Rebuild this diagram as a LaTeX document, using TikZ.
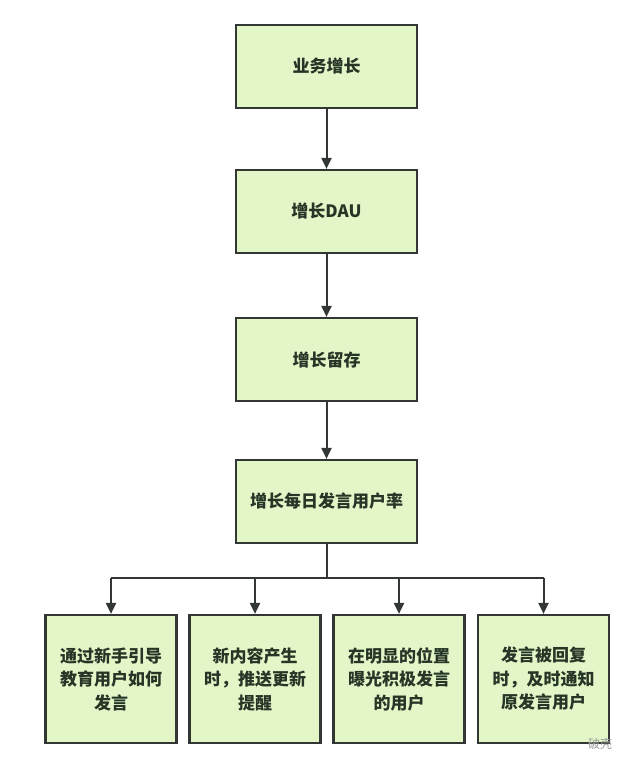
\documentclass[tikz,border=0pt]{standalone}
\usepackage{fontspec}
\newfontfamily\cjk{Noto Sans CJK SC}
\usetikzlibrary{arrows.meta}
\definecolor{boxfill}{HTML}{E2F6C8}
\definecolor{boxline}{HTML}{333733}
\definecolor{txt}{HTML}{263526}
\tikzset{
  topbox/.style={draw=boxline,line width=2.2pt,fill=boxfill,minimum width=181pt,minimum height=83pt,inner sep=0pt,font=\cjk\bfseries\fontsize{17}{22}\selectfont,text=txt},
  leafbox/.style={draw=boxline,line width=2.2pt,fill=boxfill,minimum width=131pt,minimum height=128pt,inner sep=0pt,align=center,font=\cjk\bfseries\fontsize{17}{23.5}\selectfont,text=txt},
  conn/.style={draw=boxline,line width=2pt,-{Triangle[length=11pt,width=10pt]}},
  line/.style={draw=boxline,line width=2pt}
}
\begin{document}
\begin{tikzpicture}[x=1pt,y=-1pt]
\useasboundingbox (0,0) rectangle (640,772);
\node[topbox] (a) at (326.5,66.5) {业务增长};
\node[topbox] (b) at (326.5,211.5) {增长DAU};
\node[topbox] (c) at (326.5,359.5) {增长留存};
\node[topbox] (d) at (326.5,501.5) {增长每日发言用户率};
\node[leafbox] (e1) at (111,679) {通过新手引导\\教育用户如何\\发言};
\node[leafbox] (e2) at (255,679) {新内容产生\\时，推送更新\\提醒};
\node[leafbox] (e3) at (399,679) {在明显的位置\\曝光积极发言\\的用户};
\node[leafbox] (e4) at (543.5,679) {发言被回复\\时，及时通知\\原发言用户};
\draw[conn] (a) -- (b);
\draw[conn] (b) -- (c);
\draw[conn] (c) -- (d);
\coordinate (j) at (326.5,578);
\draw[line] (d) -- (j);
\draw[line] (e1.north |- j) -- (e4.north |- j);
\draw[conn] (e1.north |- j) -- (e1.north);
\draw[conn] (e2.north |- j) -- (e2.north);
\draw[conn] (e3.north |- j) -- (e3.north);
\draw[conn] (e4.north |- j) -- (e4.north);
\node[text=gray!80,font=\cjk\fontsize{12}{12}\selectfont] (wm) at (600,744) {破壳};
\end{tikzpicture}
\end{document}
